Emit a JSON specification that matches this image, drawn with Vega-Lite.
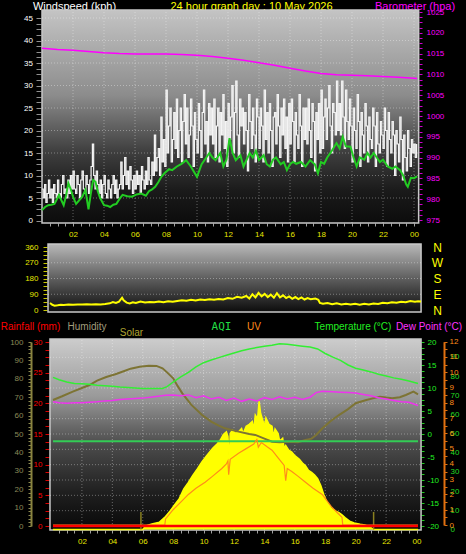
{
"$schema": "https://vega.github.io/schema/vega-lite/v6.json",
"width": 466, "height": 554, "padding": 0, "autosize": "none",
"background": "#000000",
"config": {
 "font": "Liberation Sans",
 "view": {"stroke": null},
 "axis": {"labelFontSize": 8, "labelOverlap": false, "labelFlush": false, "labelBound": false, "grid": false, "domain": false, "titleFontWeight": "normal", "titleAngle": 0, "titleAlign": "center", "titleBaseline": "alphabetic", "titleFontSize": 11, "tickWidth": 1}
},
"datasets": {
 "gust": [
{"h":0,"v":7},{"h":0.083,"v":5},{"h":0.167,"v":8},{"h":0.25,"v":4},{"h":0.333,"v":6},{"h":0.417,"v":9},{"h":0.5,"v":5},{"h":0.583,"v":7},{"h":0.667,"v":4},{"h":0.75,"v":8},{"h":0.833,"v":6},{"h":0.917,"v":5},
{"h":1,"v":9},{"h":1.083,"v":6},{"h":1.167,"v":5},{"h":1.25,"v":8},{"h":1.333,"v":10},{"h":1.417,"v":6},{"h":1.5,"v":7},{"h":1.583,"v":5},{"h":1.667,"v":9},{"h":1.75,"v":6},{"h":1.833,"v":10},{"h":1.917,"v":7},
{"h":2,"v":11},{"h":2.083,"v":7},{"h":2.167,"v":6},{"h":2.25,"v":10},{"h":2.333,"v":8},{"h":2.417,"v":5},{"h":2.5,"v":9},{"h":2.583,"v":11},{"h":2.667,"v":7},{"h":2.75,"v":6},{"h":2.833,"v":10},{"h":2.917,"v":8},
{"h":3,"v":6},{"h":3.083,"v":9},{"h":3.167,"v":12},{"h":3.25,"v":17},{"h":3.333,"v":10},{"h":3.417,"v":7},{"h":3.5,"v":11},{"h":3.583,"v":8},{"h":3.667,"v":6},{"h":3.75,"v":9},{"h":3.833,"v":5},{"h":3.917,"v":8},
{"h":4,"v":10},{"h":4.083,"v":6},{"h":4.167,"v":5},{"h":4.25,"v":9},{"h":4.333,"v":7},{"h":4.417,"v":5},{"h":4.5,"v":8},{"h":4.583,"v":10},{"h":4.667,"v":6},{"h":4.75,"v":9},{"h":4.833,"v":5},{"h":4.917,"v":7},
{"h":5,"v":8},{"h":5.083,"v":13},{"h":5.167,"v":7},{"h":5.25,"v":10},{"h":5.333,"v":14},{"h":5.417,"v":8},{"h":5.5,"v":11},{"h":5.583,"v":7},{"h":5.667,"v":12},{"h":5.75,"v":9},{"h":5.833,"v":6},{"h":5.917,"v":10},
{"h":6,"v":7},{"h":6.083,"v":11},{"h":6.167,"v":8},{"h":6.25,"v":10},{"h":6.333,"v":6},{"h":6.417,"v":12},{"h":6.5,"v":9},{"h":6.583,"v":7},{"h":6.667,"v":11},{"h":6.75,"v":8},{"h":6.833,"v":14},{"h":6.917,"v":9},
{"h":7,"v":8},{"h":7.083,"v":13},{"h":7.167,"v":10},{"h":7.25,"v":19},{"h":7.333,"v":11},{"h":7.417,"v":14},{"h":7.5,"v":16},{"h":7.583,"v":10},{"h":7.667,"v":23},{"h":7.75,"v":13},{"h":7.833,"v":18},{"h":7.917,"v":12},
{"h":8,"v":29},{"h":8.083,"v":15},{"h":8.167,"v":21},{"h":8.25,"v":25},{"h":8.333,"v":13},{"h":8.417,"v":18},{"h":8.5,"v":24},{"h":8.583,"v":16},{"h":8.667,"v":27},{"h":8.75,"v":14},{"h":8.833,"v":20},{"h":8.917,"v":25},
{"h":9,"v":13},{"h":9.083,"v":22},{"h":9.167,"v":28},{"h":9.25,"v":17},{"h":9.333,"v":25},{"h":9.417,"v":14},{"h":9.5,"v":19},{"h":9.583,"v":27},{"h":9.667,"v":21},{"h":9.75,"v":12},{"h":9.833,"v":24},{"h":9.917,"v":18},
{"h":10,"v":15},{"h":10.083,"v":26},{"h":10.167,"v":20},{"h":10.25,"v":14},{"h":10.333,"v":24},{"h":10.417,"v":29},{"h":10.5,"v":17},{"h":10.583,"v":22},{"h":10.667,"v":13},{"h":10.75,"v":26},{"h":10.833,"v":19},{"h":10.917,"v":25},
{"h":11,"v":17},{"h":11.083,"v":27},{"h":11.167,"v":14},{"h":11.25,"v":21},{"h":11.333,"v":25},{"h":11.417,"v":13},{"h":11.5,"v":24},{"h":11.583,"v":19},{"h":11.667,"v":28},{"h":11.75,"v":16},{"h":11.833,"v":22},{"h":11.917,"v":12},
{"h":12,"v":26},{"h":12.083,"v":18},{"h":12.167,"v":23},{"h":12.25,"v":30},{"h":12.333,"v":15},{"h":12.417,"v":24},{"h":12.5,"v":31},{"h":12.583,"v":19},{"h":12.667,"v":14},{"h":12.75,"v":27},{"h":12.833,"v":21},{"h":12.917,"v":25},
{"h":13,"v":17},{"h":13.083,"v":24},{"h":13.167,"v":20},{"h":13.25,"v":11},{"h":13.333,"v":28},{"h":13.417,"v":22},{"h":13.5,"v":16},{"h":13.583,"v":25},{"h":13.667,"v":19},{"h":13.75,"v":13},{"h":13.833,"v":27},{"h":13.917,"v":23},
{"h":14,"v":16},{"h":14.083,"v":25},{"h":14.167,"v":21},{"h":14.25,"v":13},{"h":14.333,"v":29},{"h":14.417,"v":18},{"h":14.5,"v":24},{"h":14.583,"v":15},{"h":14.667,"v":26},{"h":14.75,"v":20},{"h":14.833,"v":12},{"h":14.917,"v":23},
{"h":15,"v":24},{"h":15.083,"v":17},{"h":15.167,"v":28},{"h":15.25,"v":21},{"h":15.333,"v":14},{"h":15.417,"v":25},{"h":15.5,"v":19},{"h":15.583,"v":27},{"h":15.667,"v":16},{"h":15.75,"v":23},{"h":15.833,"v":13},{"h":15.917,"v":26},
{"h":16,"v":17},{"h":16.083,"v":27},{"h":16.167,"v":22},{"h":16.25,"v":13},{"h":16.333,"v":24},{"h":16.417,"v":19},{"h":16.5,"v":16},{"h":16.583,"v":28},{"h":16.667,"v":21},{"h":16.75,"v":12},{"h":16.833,"v":25},{"h":16.917,"v":18},
{"h":17,"v":25},{"h":17.083,"v":17},{"h":17.167,"v":27},{"h":17.25,"v":20},{"h":17.333,"v":14},{"h":17.417,"v":26},{"h":17.5,"v":22},{"h":17.583,"v":11},{"h":17.667,"v":24},{"h":17.75,"v":18},{"h":17.833,"v":26},{"h":17.917,"v":15},
{"h":18,"v":29},{"h":18.083,"v":16},{"h":18.167,"v":23},{"h":18.25,"v":27},{"h":18.333,"v":18},{"h":18.417,"v":25},{"h":18.5,"v":30},{"h":18.583,"v":21},{"h":18.667,"v":15},{"h":18.75,"v":26},{"h":18.833,"v":24},{"h":18.917,"v":19},
{"h":19,"v":31},{"h":19.083,"v":20},{"h":19.167,"v":26},{"h":19.25,"v":19},{"h":19.333,"v":31},{"h":19.417,"v":23},{"h":19.5,"v":16},{"h":19.583,"v":29},{"h":19.667,"v":22},{"h":19.75,"v":18},{"h":19.833,"v":27},{"h":19.917,"v":21},
{"h":20,"v":13},{"h":20.083,"v":25},{"h":20.167,"v":20},{"h":20.25,"v":16},{"h":20.333,"v":28},{"h":20.417,"v":22},{"h":20.5,"v":12},{"h":20.583,"v":24},{"h":20.667,"v":19},{"h":20.75,"v":15},{"h":20.833,"v":26},{"h":20.917,"v":21},
{"h":21,"v":13},{"h":21.083,"v":23},{"h":21.167,"v":18},{"h":21.25,"v":16},{"h":21.333,"v":25},{"h":21.417,"v":21},{"h":21.5,"v":12},{"h":21.583,"v":24},{"h":21.667,"v":17},{"h":21.75,"v":15},{"h":21.833,"v":22},{"h":21.917,"v":19},
{"h":22,"v":16},{"h":22.083,"v":25},{"h":22.167,"v":20},{"h":22.25,"v":12},{"h":22.333,"v":24},{"h":22.417,"v":18},{"h":22.5,"v":15},{"h":22.583,"v":22},{"h":22.667,"v":19},{"h":22.75,"v":10},{"h":22.833,"v":20},{"h":22.917,"v":17},
{"h":23,"v":13},{"h":23.083,"v":23},{"h":23.167,"v":18},{"h":23.25,"v":9},{"h":23.333,"v":19},{"h":23.417,"v":14},{"h":23.5,"v":11},{"h":23.583,"v":20},{"h":23.667,"v":16},{"h":23.75,"v":12},{"h":23.833,"v":18},{"h":23.917,"v":15},
{"h":24,"v":17},{"h":24.083,"v":14},{"h":24.167,"v":17}],
 "avg": [{"h":0,"v":2.3},{"h":0.2,"v":3.0},{"h":0.4,"v":3.4},{"h":0.6,"v":3.5},{"h":0.8,"v":3.7},{"h":1.0,"v":5.0},{"h":1.1,"v":5.7},{"h":1.25,"v":4.5},{"h":1.4,"v":3.4},{"h":1.55,"v":5.5},{"h":1.7,"v":8.3},{"h":1.85,"v":7.0},{"h":2.0,"v":5.3},{"h":2.2,"v":3.7},{"h":2.4,"v":4.5},{"h":2.6,"v":5.3},{"h":2.8,"v":6.8},{"h":3.0,"v":2.5},{"h":3.15,"v":6.0},{"h":3.3,"v":9.0},{"h":3.45,"v":8.6},{"h":3.6,"v":6.5},{"h":3.75,"v":5.0},{"h":4.0,"v":3.4},{"h":4.2,"v":3.3},{"h":4.4,"v":3.0},{"h":4.6,"v":3.5},{"h":4.8,"v":3.7},{"h":5.0,"v":4.8},{"h":5.2,"v":5.7},{"h":5.5,"v":5.4},{"h":5.8,"v":5.3},{"h":6.1,"v":5.8},{"h":6.4,"v":6.0},{"h":6.7,"v":5.5},{"h":6.9,"v":6.5},{"h":7.1,"v":6.9},{"h":7.3,"v":7.5},{"h":7.5,"v":8.5},{"h":7.7,"v":9.7},{"h":7.9,"v":10.5},{"h":8.2,"v":11.4},{"h":8.4,"v":11.2},{"h":8.7,"v":12.0},{"h":9.0,"v":12.6},{"h":9.3,"v":13.4},{"h":9.6,"v":12.0},{"h":10.0,"v":9.7},{"h":10.3,"v":12.5},{"h":10.6,"v":14.0},{"h":10.8,"v":15.0},{"h":11.0,"v":14.0},{"h":11.2,"v":13.4},{"h":11.5,"v":15.0},{"h":11.7,"v":12.0},{"h":11.9,"v":13.5},{"h":12.1,"v":18.3},{"h":12.3,"v":15.0},{"h":12.5,"v":13.4},{"h":12.8,"v":14.5},{"h":13.0,"v":12.0},{"h":13.2,"v":13.5},{"h":13.4,"v":15.0},{"h":13.6,"v":14.0},{"h":13.8,"v":15.5},{"h":14.0,"v":13.4},{"h":14.3,"v":14.5},{"h":14.5,"v":12.5},{"h":14.7,"v":12.0},{"h":14.9,"v":13.5},{"h":15.1,"v":14.0},{"h":15.4,"v":12.5},{"h":15.6,"v":13.0},{"h":15.8,"v":11.2},{"h":16.0,"v":12.5},{"h":16.2,"v":13.0},{"h":16.4,"v":12.6},{"h":16.7,"v":13.0},{"h":17.0,"v":12.0},{"h":17.3,"v":13.4},{"h":17.6,"v":12.5},{"h":17.8,"v":10.5},{"h":18.0,"v":13.0},{"h":18.2,"v":12.6},{"h":18.4,"v":14.0},{"h":18.7,"v":15.5},{"h":19.0,"v":17.2},{"h":19.2,"v":16.0},{"h":19.4,"v":18.6},{"h":19.6,"v":16.5},{"h":19.9,"v":16.4},{"h":20.1,"v":14.0},{"h":20.3,"v":12.0},{"h":20.5,"v":14.0},{"h":20.8,"v":13.5},{"h":21.0,"v":15.0},{"h":21.2,"v":14.0},{"h":21.4,"v":15.0},{"h":21.6,"v":14.0},{"h":21.8,"v":13.0},{"h":22.0,"v":13.5},{"h":22.3,"v":12.0},{"h":22.6,"v":11.5},{"h":22.8,"v":12.0},{"h":23.1,"v":11.2},{"h":23.3,"v":10.0},{"h":23.5,"v":8.0},{"h":23.6,"v":7.5},{"h":23.8,"v":9.5},{"h":24.0,"v":9.4},{"h":24.2,"v":9.8}],
 "baro": [{"h":0,"v":1016.3},{"h":1,"v":1016.0},{"h":2,"v":1015.8},{"h":3,"v":1015.5},{"h":4,"v":1015.2},{"h":5,"v":1015.0},{"h":6,"v":1014.9},{"h":7,"v":1014.9},{"h":8,"v":1014.9},{"h":9,"v":1014.8},{"h":10,"v":1014.6},{"h":11,"v":1014.3},{"h":12,"v":1013.9},{"h":13,"v":1013.4},{"h":14,"v":1012.8},{"h":15,"v":1012.2},{"h":16,"v":1011.5},{"h":17,"v":1010.8},{"h":18,"v":1010.2},{"h":19,"v":1009.9},{"h":20,"v":1009.8},{"h":21,"v":1009.7},{"h":22,"v":1009.5},{"h":23,"v":1009.3},{"h":24,"v":1009.1},{"h":24.2,"v":1009.0}],
 "dir": [{"h":0,"v":40},{"h":0.15,"v":30},{"h":0.3,"v":25},{"h":0.5,"v":27},{"h":0.7,"v":30},{"h":0.9,"v":29},{"h":1.2,"v":31},{"h":1.5,"v":30},{"h":1.8,"v":32},{"h":2.1,"v":31},{"h":2.4,"v":33},{"h":2.7,"v":31},{"h":3.0,"v":33},{"h":3.3,"v":32},{"h":3.6,"v":34},{"h":3.9,"v":38},{"h":4.1,"v":45},{"h":4.3,"v":40},{"h":4.5,"v":48},{"h":4.7,"v":70},{"h":4.8,"v":55},{"h":5.0,"v":42},{"h":5.2,"v":38},{"h":5.4,"v":44},{"h":5.6,"v":40},{"h":5.9,"v":48},{"h":6.2,"v":43},{"h":6.5,"v":46},{"h":6.8,"v":44},{"h":7.1,"v":48},{"h":7.4,"v":45},{"h":7.7,"v":50},{"h":8.0,"v":47},{"h":8.3,"v":52},{"h":8.6,"v":56},{"h":8.9,"v":53},{"h":9.2,"v":58},{"h":9.5,"v":55},{"h":9.8,"v":60},{"h":10.1,"v":57},{"h":10.4,"v":62},{"h":10.7,"v":58},{"h":11.0,"v":63},{"h":11.3,"v":60},{"h":11.6,"v":68},{"h":11.9,"v":64},{"h":12.2,"v":75},{"h":12.5,"v":70},{"h":12.8,"v":80},{"h":13.0,"v":65},{"h":13.2,"v":90},{"h":13.4,"v":72},{"h":13.6,"v":98},{"h":13.8,"v":78},{"h":14.0,"v":92},{"h":14.2,"v":74},{"h":14.4,"v":88},{"h":14.6,"v":70},{"h":14.8,"v":96},{"h":15.0,"v":72},{"h":15.2,"v":84},{"h":15.4,"v":68},{"h":15.6,"v":78},{"h":15.8,"v":64},{"h":16.0,"v":74},{"h":16.2,"v":62},{"h":16.4,"v":72},{"h":16.6,"v":60},{"h":16.8,"v":68},{"h":17.0,"v":62},{"h":17.3,"v":66},{"h":17.5,"v":58},{"h":17.6,"v":40},{"h":17.8,"v":36},{"h":18.1,"v":40},{"h":18.4,"v":33},{"h":18.7,"v":38},{"h":19.0,"v":32},{"h":19.3,"v":36},{"h":19.6,"v":31},{"h":19.9,"v":35},{"h":20.2,"v":30},{"h":20.5,"v":35},{"h":20.8,"v":32},{"h":21.1,"v":37},{"h":21.4,"v":35},{"h":21.7,"v":41},{"h":22.0,"v":39},{"h":22.3,"v":44},{"h":22.6,"v":42},{"h":22.9,"v":47},{"h":23.2,"v":45},{"h":23.5,"v":51},{"h":23.8,"v":47},{"h":24.0,"v":50},{"h":24.2,"v":49}],
 "temp": [{"h":0.1,"v":12.3},{"h":0.5,"v":11.8},{"h":1,"v":11.3},{"h":1.5,"v":11.0},{"h":2,"v":10.9},{"h":2.5,"v":10.8},{"h":3,"v":10.6},{"h":3.5,"v":10.5},{"h":4,"v":10.4},{"h":4.5,"v":10.2},{"h":5,"v":10.1},{"h":5.5,"v":10.0},{"h":6,"v":9.9},{"h":6.5,"v":9.9},{"h":7,"v":9.9},{"h":7.3,"v":9.9},{"h":7.6,"v":10.3},{"h":8,"v":11.3},{"h":8.5,"v":12.4},{"h":9,"v":13.4},{"h":9.5,"v":14.6},{"h":10,"v":15.5},{"h":10.5,"v":16.1},{"h":11,"v":16.6},{"h":11.5,"v":17.1},{"h":12,"v":17.6},{"h":12.5,"v":18.1},{"h":13,"v":18.5},{"h":13.5,"v":18.8},{"h":14,"v":19.1},{"h":14.5,"v":19.3},{"h":15,"v":19.6},{"h":15.5,"v":19.5},{"h":16,"v":19.3},{"h":16.5,"v":19.1},{"h":17,"v":18.9},{"h":17.5,"v":18.5},{"h":18,"v":17.5},{"h":18.5,"v":16.7},{"h":19,"v":16.0},{"h":19.5,"v":15.0},{"h":20,"v":14.3},{"h":20.5,"v":13.9},{"h":21,"v":13.5},{"h":21.5,"v":13.0},{"h":22,"v":12.6},{"h":22.5,"v":12.2},{"h":23,"v":11.9},{"h":23.5,"v":11.5},{"h":24.1,"v":11.0}],
 "dew": [{"h":0.1,"v":7.0},{"h":0.5,"v":6.8},{"h":1,"v":6.7},{"h":1.5,"v":6.8},{"h":2,"v":6.8},{"h":2.5,"v":6.9},{"h":3,"v":7.0},{"h":3.5,"v":7.2},{"h":4,"v":7.3},{"h":4.5,"v":7.5},{"h":5,"v":7.6},{"h":5.5,"v":7.7},{"h":6,"v":7.8},{"h":6.5,"v":8.0},{"h":7,"v":8.2},{"h":7.5,"v":8.4},{"h":8,"v":8.5},{"h":8.5,"v":8.3},{"h":9,"v":8.5},{"h":9.5,"v":7.9},{"h":10,"v":8.3},{"h":10.5,"v":7.6},{"h":11,"v":8.0},{"h":11.5,"v":7.3},{"h":12,"v":7.8},{"h":12.5,"v":7.1},{"h":13,"v":7.6},{"h":13.5,"v":7.2},{"h":14,"v":7.9},{"h":14.5,"v":7.5},{"h":15,"v":8.1},{"h":15.5,"v":7.6},{"h":16,"v":8.0},{"h":16.5,"v":7.5},{"h":17,"v":8.0},{"h":17.4,"v":9.0},{"h":17.8,"v":9.3},{"h":18.5,"v":9.2},{"h":19,"v":9.1},{"h":19.5,"v":9.0},{"h":20,"v":8.9},{"h":20.5,"v":8.6},{"h":21,"v":8.3},{"h":21.5,"v":7.9},{"h":22,"v":7.6},{"h":22.5,"v":7.3},{"h":23,"v":7.0},{"h":23.5,"v":6.9},{"h":24.1,"v":6.2}],
 "hum": [{"h":0.1,"v":68.5},{"h":0.7,"v":70.5},{"h":1.4,"v":73},{"h":2.0,"v":75},{"h":2.5,"v":76.6},{"h":3.0,"v":79},{"h":3.6,"v":81},{"h":4.2,"v":82.5},{"h":4.7,"v":84},{"h":5.2,"v":85.5},{"h":5.8,"v":86.6},{"h":6.4,"v":87.1},{"h":6.9,"v":87},{"h":7.3,"v":85.7},{"h":7.6,"v":83.5},{"h":8.0,"v":80.3},{"h":8.3,"v":76},{"h":8.6,"v":72.1},{"h":9.2,"v":65.8},{"h":9.9,"v":60.3},{"h":10.5,"v":56.7},{"h":11.0,"v":54.5},{"h":11.4,"v":53.1},{"h":12.3,"v":51.3},{"h":13.0,"v":50},{"h":13.4,"v":49.5},{"h":14.0,"v":47.5},{"h":14.5,"v":45.8},{"h":15.0,"v":45.5},{"h":15.6,"v":45.8},{"h":16.2,"v":45.5},{"h":16.7,"v":46.7},{"h":17.1,"v":47.5},{"h":17.4,"v":49.5},{"h":17.8,"v":53},{"h":18.3,"v":56.7},{"h":18.9,"v":60.3},{"h":19.5,"v":63.5},{"h":20.0,"v":66.7},{"h":20.7,"v":68.5},{"h":21.2,"v":69.5},{"h":21.6,"v":70.3},{"h":22.0,"v":69.8},{"h":22.4,"v":69.4},{"h":22.9,"v":70},{"h":23.3,"v":71.2},{"h":23.8,"v":73},{"h":24.1,"v":71.6}],
 "uv": [{"h":0.1,"v":0},{"h":7.45,"v":0},{"h":7.5,"v":0.4},{"h":8,"v":1.0},{"h":8.5,"v":1.5},{"h":9,"v":2.0},{"h":9.5,"v":2.4},{"h":10.1,"v":2.8},{"h":10.6,"v":3.2},{"h":11.2,"v":3.7},{"h":11.5,"v":4.0},{"h":11.6,"v":4.2},{"h":11.65,"v":3.3},{"h":11.75,"v":4.3},{"h":12.3,"v":4.7},{"h":12.8,"v":5.0},{"h":13.3,"v":5.3},{"h":13.5,"v":5.6},{"h":13.6,"v":5.1},{"h":13.8,"v":5.4},{"h":14.2,"v":5.1},{"h":14.5,"v":4.9},{"h":14.9,"v":4.4},{"h":15.3,"v":3.9},{"h":15.4,"v":2.9},{"h":15.5,"v":3.7},{"h":15.8,"v":3.5},{"h":16.2,"v":3.2},{"h":16.7,"v":2.8},{"h":17.2,"v":2.4},{"h":17.8,"v":2.0},{"h":18.4,"v":1.2},{"h":18.8,"v":0.8},{"h":19.1,"v":0.5},{"h":19.15,"v":0},{"h":24.1,"v":0}],
 "solar": [{"h":0.1,"v":0},{"h":6.0,"v":0},{"h":6.2,"v":20},{"h":6.6,"v":30},{"h":7.1,"v":40},{"h":7.3,"v":55},{"h":7.5,"v":70},{"h":7.8,"v":100},{"h":8.1,"v":135},{"h":8.4,"v":167},{"h":8.7,"v":220},{"h":9.0,"v":255},{"h":9.3,"v":295},{"h":9.6,"v":330},{"h":9.9,"v":368},{"h":10.2,"v":400},{"h":10.6,"v":440},{"h":10.9,"v":465},{"h":11.1,"v":485},{"h":11.3,"v":515},{"h":11.5,"v":530},{"h":11.6,"v":505},{"h":11.7,"v":360},{"h":11.75,"v":520},{"h":11.9,"v":538},{"h":12.1,"v":520},{"h":12.3,"v":530},{"h":12.5,"v":548},{"h":12.6,"v":520},{"h":12.8,"v":560},{"h":13.0,"v":570},{"h":13.2,"v":585},{"h":13.3,"v":540},{"h":13.4,"v":620},{"h":13.55,"v":600},{"h":13.65,"v":695},{"h":13.75,"v":630},{"h":13.9,"v":590},{"h":14.0,"v":560},{"h":14.1,"v":605},{"h":14.3,"v":570},{"h":14.5,"v":560},{"h":14.6,"v":500},{"h":14.7,"v":545},{"h":14.9,"v":520},{"h":15.0,"v":480},{"h":15.2,"v":495},{"h":15.3,"v":440},{"h":15.4,"v":455},{"h":15.6,"v":430},{"h":15.8,"v":420},{"h":16.0,"v":400},{"h":16.3,"v":380},{"h":16.5,"v":360},{"h":16.7,"v":345},{"h":16.9,"v":320},{"h":17.1,"v":310},{"h":17.3,"v":295},{"h":17.5,"v":275},{"h":17.7,"v":240},{"h":17.9,"v":190},{"h":18.1,"v":150},{"h":18.4,"v":115},{"h":18.7,"v":100},{"h":18.9,"v":92},{"h":19.1,"v":80},{"h":19.3,"v":65},{"h":19.6,"v":45},{"h":19.9,"v":35},{"h":20.3,"v":28},{"h":20.6,"v":24},{"h":20.9,"v":15},{"h":21.1,"v":5},{"h":21.2,"v":0},{"h":24.1,"v":0}],
 "aqi": [{"h":0.1,"v":46},{"h":24.1,"v":46}],
 "rain": [{"h":0.1,"v":0},{"h":24.1,"v":0}],
 "sun": [{"h":5.88},{"h":21.18}],
 "gxt": [{"v":2},{"v":4},{"v":6},{"v":8},{"v":10},{"v":12},{"v":14},{"v":16},{"v":18},{"v":20},{"v":22},{"v":24}],
 "gxb": [{"v":2},{"v":4},{"v":6},{"v":8},{"v":10},{"v":12},{"v":14},{"v":16},{"v":18},{"v":20},{"v":22}],
 "gyw": [{"v":5},{"v":10},{"v":15},{"v":20},{"v":25},{"v":30},{"v":35},{"v":40},{"v":45}],
 "gyd": [{"v":90},{"v":180},{"v":270}],
 "gyb": [{"v":2.5},{"v":5},{"v":7.5},{"v":10},{"v":12.5},{"v":15},{"v":17.5},{"v":20},{"v":22.5},{"v":25},{"v":27.5}]
},
"resolve": {"scale": {"x": "independent", "y": "independent"}},
"layer": [
 {"data": {"values": [{"panel": "wind"}]},
  "mark": {"type": "rect", "fill": {"gradient": "linear", "x1": 0, "y1": 0, "x2": 0, "y2": 1, "stops": [{"offset": 0, "color": "#c4c4c4"}, {"offset": 0.4, "color": "#8c8c8c"}, {"offset": 0.66, "color": "#404040"}, {"offset": 0.85, "color": "#1a1a1a"}, {"offset": 1, "color": "#0c0c0c"}]}, "stroke": "#c8c8c8", "strokeWidth": 1.5},
  "encoding": {
   "x": {"datum": 0, "type": "quantitative", "scale": {"domain": [0, 24], "range": [42, 414], "nice": false, "zero": false},
    "axis": {"orient": "bottom", "offset": -331, "values": [0.5,1,1.5,2,2.5,3,3.5,4,4.5,5,5.5,6,6.5,7,7.5,8,8.5,9,9.5,10,10.5,11,11.5,12,12.5,13,13.5,14,14.5,15,15.5,16,16.5,17,17.5,18,18.5,19,19.5,20,20.5,21,21.5,22,22.5,23,23.5,24], "labelExpr": "datum.value % 2 === 0 ? (datum.value === 24 ? '00' : (datum.value < 10 ? '0' + datum.value : '' + datum.value)) : ''", "labelColor": "#e6e600", "tickColor": "#a0a0a0", "tickSize": 3, "labelPadding": 4, "title": null}},
   "x2": {"datum": 24.3},
   "y": {"datum": -0.56, "type": "quantitative", "scale": {"domain": [0, 45], "range": [220.5, 18], "nice": false, "zero": false},
    "axis": {"orient": "left", "offset": -41, "values": [0,1.25,2.5,3.75,5,6.25,7.5,8.75,10,11.25,12.5,13.75,15,16.25,17.5,18.75,20,21.25,22.5,23.75,25,26.25,27.5,28.75,30,31.25,32.5,33.75,35,36.25,37.5,38.75,40,41.25,42.5,43.75,45,46.25], "labelExpr": "datum.value % 5 === 0 ? '' + datum.value : ''", "labelColor": "#ffffff", "tickColor": "#909090", "tickSize": 5, "labelPadding": 3.5, "title": "Windspeed (kph)", "titleColor": "#ffffff", "titleAngle": 0, "titleX": 33, "titleY": 9.5, "titleFontSize": 11}},
   "y2": {"datum": 46.78}}},
 {"data": {"name": "gxt"},
  "mark": {"type": "rule", "stroke": "#ffffff", "strokeDash": [1, 2], "strokeOpacity": 0.35, "strokeWidth": 1},
  "encoding": {
   "x": {"field": "v", "type": "quantitative", "scale": {"domain": [0, 24], "range": [42, 414], "nice": false, "zero": false}, "axis": null},
   "y": {"datum": -0.56, "type": "quantitative", "scale": {"domain": [0, 45], "range": [220.5, 18], "nice": false, "zero": false}, "axis": null},
   "y2": {"datum": 46.78}}},
 {"data": {"name": "gyw"},
  "mark": {"type": "rule", "stroke": "#ffffff", "strokeDash": [1, 2], "strokeOpacity": 0.35, "strokeWidth": 1},
  "encoding": {
   "x": {"datum": 0, "type": "quantitative", "scale": {"domain": [0, 24], "range": [42, 414], "nice": false, "zero": false}, "axis": null},
   "x2": {"datum": 24.3},
   "y": {"field": "v", "type": "quantitative", "scale": {"domain": [0, 45], "range": [220.5, 18], "nice": false, "zero": false}, "axis": null}}},
 {"data": {"name": "baro"},
  "mark": {"type": "line", "stroke": "#ff00ff", "strokeWidth": 1.5},
  "encoding": {
   "x": {"field": "h", "type": "quantitative", "scale": {"domain": [0, 24], "range": [42, 414], "nice": false, "zero": false},
    "axis": {"orient": "top", "offset": 0, "ticks": false, "labels": false, "title": "24 hour graph day : 10 May 2026", "titleColor": "#ffff00", "titleX": 251, "titleY": 9.5, "titleFontSize": 11}},
   "y": {"field": "v", "type": "quantitative", "scale": {"domain": [975, 1025], "range": [220, 12], "nice": false, "zero": false},
    "axis": {"orient": "right", "offset": -47, "values": [975,976.25,977.5,978.75,980,981.25,982.5,983.75,985,986.25,987.5,988.75,990,991.25,992.5,993.75,995,996.25,997.5,998.75,1000,1001.25,1002.5,1003.75,1005,1006.25,1007.5,1008.75,1010,1011.25,1012.5,1013.75,1015,1016.25,1017.5,1018.75,1020,1021.25,1022.5,1023.75,1025], "labelExpr": "datum.value % 5 === 0 ? '' + datum.value : ''", "labelColor": "#ff00ff", "tickColor": "#cc00cc", "tickSize": 3, "labelPadding": 4, "title": "Barometer (hpa)", "titleColor": "#ff00ff", "titleAngle": 0, "titleX": -4.5, "titleY": 9.5, "titleFontSize": 11}}}},
 {"data": {"name": "gust"},
  "mark": {"type": "line", "stroke": "#f4f4f4", "strokeWidth": 1.2, "interpolate": "step-after"},
  "encoding": {
   "x": {"field": "h", "type": "quantitative", "scale": {"domain": [0, 24], "range": [42, 414], "nice": false, "zero": false}, "axis": null},
   "y": {"field": "v", "type": "quantitative", "scale": {"domain": [0, 45], "range": [220.5, 18], "nice": false, "zero": false}, "axis": null}}},
 {"data": {"name": "avg"},
  "mark": {"type": "line", "stroke": "#22cc22", "strokeWidth": 2},
  "encoding": {
   "x": {"field": "h", "type": "quantitative", "scale": {"domain": [0, 24], "range": [42, 414], "nice": false, "zero": false}, "axis": null},
   "y": {"field": "v", "type": "quantitative", "scale": {"domain": [0, 45], "range": [220.5, 18], "nice": false, "zero": false}, "axis": null}}},
 {"data": {"values": [{"panel": "direction"}]},
  "mark": {"type": "rect", "fill": {"gradient": "linear", "x1": 0, "y1": 0, "x2": 0, "y2": 1, "stops": [{"offset": 0, "color": "#b8b8b8"}, {"offset": 0.5, "color": "#606060"}, {"offset": 1, "color": "#0c0c0c"}]}, "stroke": "#c8c8c8", "strokeWidth": 1.5},
  "encoding": {
   "x": {"datum": -0.13, "type": "quantitative", "scale": {"domain": [0, 24], "range": [50, 418], "nice": false, "zero": false}, "axis": null},
   "x2": {"datum": 24.2},
   "y": {"datum": -11.4, "type": "quantitative", "scale": {"domain": [0, 360], "range": [310, 247], "nice": false, "zero": false},
    "axis": {"orient": "left", "offset": -47, "values": [0,22.5,45,67.5,90,112.5,135,157.5,180,202.5,225,247.5,270,292.5,315,337.5,360], "labelExpr": "datum.value % 90 === 0 ? '' + datum.value : ''", "labelColor": "#e6e600", "tickColor": "#c8c800", "tickSize": 4, "labelPadding": 5, "title": null}},
   "y2": {"datum": 377}}},
 {"data": {"name": "gyd"},
  "mark": {"type": "rule", "stroke": "#ffffff", "strokeDash": [1, 2], "strokeOpacity": 0.35, "strokeWidth": 1},
  "encoding": {
   "x": {"datum": -0.13, "type": "quantitative", "scale": {"domain": [0, 24], "range": [50, 418], "nice": false, "zero": false}, "axis": null},
   "x2": {"datum": 24.2},
   "y": {"field": "v", "type": "quantitative", "scale": {"domain": [0, 360], "range": [310, 247], "nice": false, "zero": false}, "axis": null}}},
 {"data": {"name": "dir"},
  "mark": {"type": "line", "stroke": "#ffff00", "strokeWidth": 2},
  "encoding": {
   "x": {"field": "h", "type": "quantitative", "scale": {"domain": [0, 24], "range": [50, 418], "nice": false, "zero": false}, "axis": null},
   "y": {"field": "v", "type": "quantitative", "scale": {"domain": [0, 360], "range": [310, 247], "nice": false, "zero": false},
    "axis": {"orient": "right", "offset": -45, "values": [0, 90, 180, 270, 360], "labelExpr": "datum.value === 0 || datum.value === 360 ? 'N' : (datum.value === 90 ? 'E' : (datum.value === 180 ? 'S' : 'W'))", "labelColor": "#ffff00", "labelFontSize": 12, "labelAlign": "center", "labelBaseline": "middle", "ticks": true, "tickSize": 0, "labelPadding": 16, "title": null}}}},
 {"data": {"values": [{"panel": "climate"}]},
  "mark": {"type": "rect", "fill": {"gradient": "linear", "x1": 0, "y1": 0, "x2": 0, "y2": 1, "stops": [{"offset": 0, "color": "#cccccc"}, {"offset": 0.3, "color": "#9a9a9a"}, {"offset": 0.55, "color": "#4c4c4c"}, {"offset": 0.8, "color": "#202020"}, {"offset": 1, "color": "#080808"}]}, "stroke": "#c8c8c8", "strokeWidth": 1.5},
  "encoding": {
   "x": {"datum": -0.1, "type": "quantitative", "scale": {"domain": [0, 24], "range": [51.5, 416.5], "nice": false, "zero": false},
    "axis": {"orient": "bottom", "offset": -24, "values": [0.5,1,1.5,2,2.5,3,3.5,4,4.5,5,5.5,6,6.5,7,7.5,8,8.5,9,9.5,10,10.5,11,11.5,12,12.5,13,13.5,14,14.5,15,15.5,16,16.5,17,17.5,18,18.5,19,19.5,20,20.5,21,21.5,22,22.5,23,23.5,24], "labelExpr": "datum.value % 2 === 0 ? (datum.value === 24 ? '00' : (datum.value < 10 ? '0' + datum.value : '' + datum.value)) : ''", "labelColor": "#e6e600", "tickColor": "#a0a0a0", "tickSize": 3, "labelPadding": 4, "title": null}},
   "x2": {"datum": 24.3},
   "y": {"datum": -20.87, "type": "quantitative", "scale": {"domain": [-20, 20], "range": [526, 342], "nice": false, "zero": false},
    "axis": {"orient": "right", "offset": -45, "values": [-20,-18.75,-17.5,-16.25,-15,-13.75,-12.5,-11.25,-10,-8.75,-7.5,-6.25,-5,-3.75,-2.5,-1.25,0,1.25,2.5,3.75,5,6.25,7.5,8.75,10,11.25,12.5,13.75,15,16.25,17.5,18.75,20], "labelExpr": "datum.value % 5 === 0 ? '' + datum.value : ''", "labelColor": "#22ee22", "tickColor": "#22cc22", "tickSize": 3, "labelPadding": 3, "title": "Temperature (°C)", "titleColor": "#22ee22", "titleAngle": 0, "titleX": -68.5, "titleY": 329, "titleFontSize": 10}},
   "y2": {"datum": 20.65}}},
 {"data": {"name": "gxb"},
  "mark": {"type": "rule", "stroke": "#ffffff", "strokeDash": [1, 2], "strokeOpacity": 0.35, "strokeWidth": 1},
  "encoding": {
   "x": {"field": "v", "type": "quantitative", "scale": {"domain": [0, 24], "range": [51.5, 416.5], "nice": false, "zero": false}, "axis": null},
   "y": {"datum": -20.87, "type": "quantitative", "scale": {"domain": [-20, 20], "range": [526, 342], "nice": false, "zero": false}, "axis": null},
   "y2": {"datum": 20.65}}},
 {"data": {"name": "gyb"},
  "mark": {"type": "rule", "stroke": "#ffffff", "strokeDash": [1, 2], "strokeOpacity": 0.35, "strokeWidth": 1},
  "encoding": {
   "x": {"datum": -0.1, "type": "quantitative", "scale": {"domain": [0, 24], "range": [51.5, 416.5], "nice": false, "zero": false}, "axis": null},
   "x2": {"datum": 24.3},
   "y": {"field": "v", "type": "quantitative", "scale": {"domain": [0, 30], "range": [526, 342], "nice": false, "zero": false}, "axis": null}}},
 {"data": {"name": "solar"},
  "mark": {"type": "area", "color": "#ffff00", "opacity": 1, "line": {"color": "#ffff00", "strokeWidth": 1.5}},
  "encoding": {
   "x": {"field": "h", "type": "quantitative", "scale": {"domain": [0, 24], "range": [51.5, 416.5], "nice": false, "zero": false}, "axis": null},
   "y": {"field": "v", "type": "quantitative", "scale": {"domain": [0, 1000], "range": [529.5, 345], "nice": false, "zero": false},
    "axis": {"orient": "left", "offset": 0, "labels": false, "ticks": false, "title": "Solar", "titleColor": "#b0a430", "titleAngle": 0, "titleX": 131, "titleY": 335, "titleFontSize": 10}}}},
 {"data": {"name": "sun"},
  "mark": {"type": "rule", "stroke": "#8a8020", "strokeWidth": 1.5},
  "encoding": {
   "x": {"field": "h", "type": "quantitative", "scale": {"domain": [0, 24], "range": [51.5, 416.5], "nice": false, "zero": false}, "axis": null},
   "y": {"datum": 0, "type": "quantitative", "scale": {"domain": [0, 1000], "range": [529.5, 345], "nice": false, "zero": false}, "axis": null},
   "y2": {"datum": 95}}},
 {"data": {"name": "hum"},
  "mark": {"type": "line", "stroke": "#7d7434", "strokeWidth": 2},
  "encoding": {
   "x": {"field": "h", "type": "quantitative", "scale": {"domain": [0, 24], "range": [51.5, 416.5], "nice": false, "zero": false}, "axis": null},
   "y": {"field": "v", "type": "quantitative", "scale": {"domain": [0, 100], "range": [526, 342], "nice": false, "zero": false},
    "axis": {"orient": "left", "offset": -31, "values": [0,2,4,6,8,10,12,14,16,18,20,22,24,26,28,30,32,34,36,38,40,42,44,46,48,50,52,54,56,58,60,62,64,66,68,70,72,74,76,78,80,82,84,86,88,90,92,94,96,98,100], "labelExpr": "datum.value % 10 === 0 ? '' + datum.value : ''", "labelColor": "#8c8a58", "tickColor": "#8c8a50", "tickSize": 3, "labelPadding": 5, "domain": true, "domainColor": "#8a8440", "domainWidth": 2, "title": "Humidity", "titleColor": "#a09c7c", "titleAngle": 0, "titleX": 55.5, "titleY": 329, "titleFontSize": 10}}}},
 {"data": {"name": "temp"},
  "mark": {"type": "line", "stroke": "#33ee33", "strokeWidth": 1.5},
  "encoding": {
   "x": {"field": "h", "type": "quantitative", "scale": {"domain": [0, 24], "range": [51.5, 416.5], "nice": false, "zero": false}, "axis": null},
   "y": {"field": "v", "type": "quantitative", "scale": {"domain": [-20, 20], "range": [526, 342], "nice": false, "zero": false}, "axis": null}}},
 {"data": {"name": "dew"},
  "mark": {"type": "line", "stroke": "#ee33ee", "strokeWidth": 1.5},
  "encoding": {
   "x": {"field": "h", "type": "quantitative", "scale": {"domain": [0, 24], "range": [51.5, 416.5], "nice": false, "zero": false}, "axis": null},
   "y": {"field": "v", "type": "quantitative", "scale": {"domain": [-20, 20], "range": [526, 342], "nice": false, "zero": false},
    "axis": {"orient": "right", "offset": -45, "labels": false, "ticks": false, "title": "Dew Point (°C)", "titleColor": "#ff33ff", "titleAngle": 0, "titleX": 7.5, "titleY": 329, "titleFontSize": 10}}}},
 {"data": {"name": "aqi"},
  "mark": {"type": "line", "stroke": "#33cc55", "strokeWidth": 2},
  "encoding": {
   "x": {"field": "h", "type": "quantitative", "scale": {"domain": [0, 24], "range": [51.5, 416.5], "nice": false, "zero": false}, "axis": null},
   "y": {"field": "v", "type": "quantitative", "scale": {"domain": [0, 100], "range": [529.3, 337.8], "nice": false, "zero": false},
    "axis": {"orient": "right", "offset": -22, "values": [0,10,20,30,40,50,60,70,80,90], "labelExpr": "'' + datum.value", "labelColor": "#22dd22", "ticks": true, "tickSize": 3, "tickOpacity": 0, "labelPadding": 3, "title": "AQI", "titleColor": "#22dd44", "titleFont": "DejaVu Sans Mono", "titleAngle": 0, "titleX": -223, "titleY": 329.5, "titleFontSize": 11}}}},
 {"data": {"name": "uv"},
  "mark": {"type": "line", "stroke": "#ff8c1a", "strokeWidth": 1.2},
  "encoding": {
   "x": {"field": "h", "type": "quantitative", "scale": {"domain": [0, 24], "range": [51.5, 416.5], "nice": false, "zero": false}, "axis": null},
   "y": {"field": "v", "type": "quantitative", "scale": {"domain": [0, 12], "range": [525, 341.7], "nice": false, "zero": false},
    "axis": {"orient": "right", "offset": -22, "values": [0,0.5,1,1.5,2,2.5,3,3.5,4,4.5,5,5.5,6,6.5,7,7.5,8,8.5,9,9.5,10,10.5,11,11.5,12], "labelExpr": "datum.value % 1 === 0 ? '' + datum.value : ''", "labelColor": "#ff8c1a", "tickColor": "#e07010", "tickSize": 3, "labelPadding": 2, "domain": true, "domainColor": "#e07010", "domainWidth": 2, "title": "UV", "titleColor": "#ff8c1a", "titleAngle": 0, "titleX": -190.5, "titleY": 329, "titleFontSize": 10}}}},
 {"data": {"name": "rain"},
  "mark": {"type": "line", "stroke": "#ff0000", "strokeWidth": 2.5},
  "encoding": {
   "x": {"field": "h", "type": "quantitative", "scale": {"domain": [0, 24], "range": [51.5, 416.5], "nice": false, "zero": false}, "axis": null},
   "y": {"field": "v", "type": "quantitative", "scale": {"domain": [0, 30], "range": [526, 342], "nice": false, "zero": false},
    "axis": {"orient": "left", "offset": -49, "values": [0,1.25,2.5,3.75,5,6.25,7.5,8.75,10,11.25,12.5,13.75,15,16.25,17.5,18.75,20,21.25,22.5,23.75,25,26.25,27.5,28.75,30], "labelExpr": "datum.value % 5 === 0 ? '' + datum.value : ''", "labelColor": "#ff0000", "tickColor": "#dd0000", "tickSize": 4, "labelPadding": 3, "title": "Rainfall (mm)", "titleColor": "#ff0000", "titleAngle": 0, "titleX": -19, "titleY": 329, "titleFontSize": 10}}}}
]
}
